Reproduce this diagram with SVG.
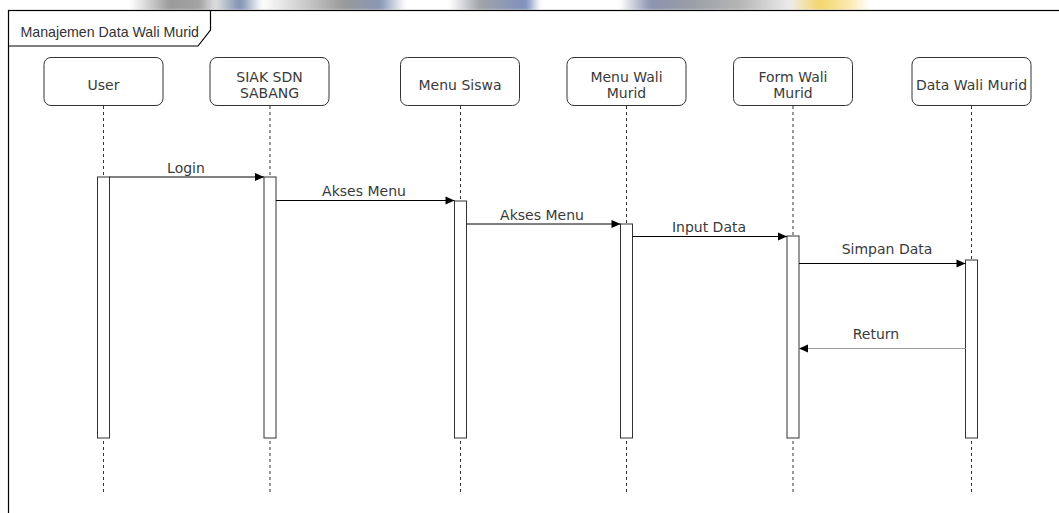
<svg xmlns="http://www.w3.org/2000/svg" width="1059" height="513" viewBox="0 0 1059 513">
  <style>
    .head { fill: #ffffff; stroke: #333333; stroke-width: 1; }
    .act { fill: #ffffff; stroke: #333333; stroke-width: 1; }
    .life { stroke: #333333; stroke-width: 1; stroke-dasharray: 3 3; fill: none; }
    .msg { stroke: #000000; stroke-width: 1; fill: none; marker-end: url(#arrow); }
    .ret { stroke: #a0a0a0; stroke-width: 1; fill: none; marker-end: url(#arrow); }
    .lbl { font-family: "DejaVu Sans", Verdana, sans-serif; font-size: 14px; fill: #3a3a3a; text-anchor: middle; }
    .frame { fill: none; stroke: #000000; stroke-width: 1.2; }
    .ftitle { font-family: "Liberation Sans", Arial, sans-serif; font-size: 14.2px; fill: #333333; }
  </style>
  <defs>
    <marker id="arrow" viewBox="0 0 10 10" refX="10" refY="5" markerWidth="10" markerHeight="9" markerUnits="userSpaceOnUse" orient="auto">
      <path d="M0,0.5 L10,5 L0,9.5 z" fill="#000000"/>
    </marker>
    <linearGradient id="band" x1="130" y1="0" x2="870" y2="0" gradientUnits="userSpaceOnUse">
      <stop offset="0" stop-color="#ffffff"/>
      <stop offset="0.054" stop-color="#9a9a9a"/>
      <stop offset="0.095" stop-color="#a4a4a4"/>
      <stop offset="0.115" stop-color="#e0e0e0"/>
      <stop offset="0.149" stop-color="#7d8fb0"/>
      <stop offset="0.178" stop-color="#ffffff"/>
      <stop offset="0.230" stop-color="#d0d0d0"/>
      <stop offset="0.290" stop-color="#999999"/>
      <stop offset="0.338" stop-color="#8896b5"/>
      <stop offset="0.372" stop-color="#ffffff"/>
      <stop offset="0.432" stop-color="#ffffff"/>
      <stop offset="0.473" stop-color="#9fa3a8"/>
      <stop offset="0.536" stop-color="#7f90c0"/>
      <stop offset="0.554" stop-color="#ffffff"/>
      <stop offset="0.662" stop-color="#ffffff"/>
      <stop offset="0.703" stop-color="#8a94b0"/>
      <stop offset="0.757" stop-color="#9a9ea6"/>
      <stop offset="0.824" stop-color="#b5b5b5"/>
      <stop offset="0.892" stop-color="#ececec"/>
      <stop offset="0.932" stop-color="#f5d66a"/>
      <stop offset="0.973" stop-color="#fbeab0"/>
      <stop offset="1" stop-color="#ffffff"/>
    </linearGradient>
    <filter id="soft" x="-5%" y="-50%" width="110%" height="200%">
      <feGaussianBlur stdDeviation="2.5 1"/>
    </filter>
  </defs>

  <rect x="0" y="0" width="1059" height="513" fill="#ffffff"/>

  <!-- soft coloured strip along the top edge -->
  <rect x="130" y="-3" width="740" height="13" fill="url(#band)" filter="url(#soft)"/>
  <rect x="0" y="10" width="1059" height="503" fill="#ffffff"/>

  <!-- sequence frame -->
  <g id="frame">
    <rect class="frame" x="8.5" y="10.5" width="1070" height="520"/>
    <path class="frame" d="M8.5,46 H198 L210.5,30 V10.5"/>
    <text class="ftitle" x="20.5" y="36.5">Manajemen Data Wali Murid</text>
  </g>

  <!-- lifelines -->
  <g id="user">
    <rect class="head" x="44" y="57.5" width="119" height="48" rx="7"/>
    <text class="lbl" x="103.5" y="90">User</text>
    <line class="life" x1="103.5" y1="106" x2="103.5" y2="177"/>
    <rect class="act" x="97.5" y="177" width="12" height="261"/>
    <line class="life" x1="103.5" y1="441" x2="103.5" y2="494"/>
  </g>
  <g id="siak">
    <rect class="head" x="210" y="57.5" width="119" height="48" rx="7"/>
    <text class="lbl" x="269.5" y="82">SIAK SDN</text>
    <text class="lbl" x="269.5" y="98">SABANG</text>
    <line class="life" x1="270" y1="106" x2="270" y2="177"/>
    <rect class="act" x="264" y="177" width="12" height="261"/>
    <line class="life" x1="270" y1="441" x2="270" y2="494"/>
  </g>
  <g id="menu-siswa">
    <rect class="head" x="400.5" y="57.5" width="119" height="48" rx="7"/>
    <text class="lbl" x="460" y="89.5">Menu Siswa</text>
    <line class="life" x1="460.5" y1="106" x2="460.5" y2="201"/>
    <rect class="act" x="454.5" y="201" width="12" height="237"/>
    <line class="life" x1="460.5" y1="441" x2="460.5" y2="494"/>
  </g>
  <g id="menu-wali">
    <rect class="head" x="567" y="57.5" width="119" height="48" rx="7"/>
    <text class="lbl" x="626.5" y="82">Menu Wali</text>
    <text class="lbl" x="626.5" y="98">Murid</text>
    <line class="life" x1="626.5" y1="106" x2="626.5" y2="224"/>
    <rect class="act" x="620.5" y="224" width="12" height="214"/>
    <line class="life" x1="626.5" y1="441" x2="626.5" y2="494"/>
  </g>
  <g id="form-wali">
    <rect class="head" x="733.5" y="57.5" width="119" height="48" rx="7"/>
    <text class="lbl" x="793" y="82">Form Wali</text>
    <text class="lbl" x="793" y="98">Murid</text>
    <line class="life" x1="793" y1="106" x2="793" y2="236"/>
    <rect class="act" x="787" y="236" width="12" height="202"/>
    <line class="life" x1="793" y1="441" x2="793" y2="494"/>
  </g>
  <g id="data-wali">
    <rect class="head" x="912" y="57.5" width="119" height="48" rx="7"/>
    <text class="lbl" x="971.5" y="89.5">Data Wali Murid</text>
    <line class="life" x1="971.5" y1="106" x2="971.5" y2="260"/>
    <rect class="act" x="965.5" y="260" width="12" height="178"/>
    <line class="life" x1="971.5" y1="441" x2="971.5" y2="494"/>
  </g>

  <!-- messages -->
  <g id="connectors">
    <line class="msg" x1="109.5" y1="177" x2="264" y2="177"/>
    <text class="lbl" x="186" y="172.5">Login</text>

    <line class="msg" x1="276" y1="200.5" x2="454.5" y2="200.5"/>
    <text class="lbl" x="364" y="196">Akses Menu</text>

    <line class="msg" x1="466.5" y1="224" x2="620.5" y2="224"/>
    <text class="lbl" x="542" y="220">Akses Menu</text>

    <line class="msg" x1="632.5" y1="236.5" x2="787" y2="236.5"/>
    <text class="lbl" x="709" y="232">Input Data</text>

    <line class="msg" x1="799" y1="263.5" x2="965.5" y2="263.5"/>
    <text class="lbl" x="887" y="254">Simpan Data</text>

    <line class="ret" x1="965.5" y1="348.5" x2="799" y2="348.5"/>
    <text class="lbl" x="876" y="338.5">Return</text>
  </g>
</svg>
